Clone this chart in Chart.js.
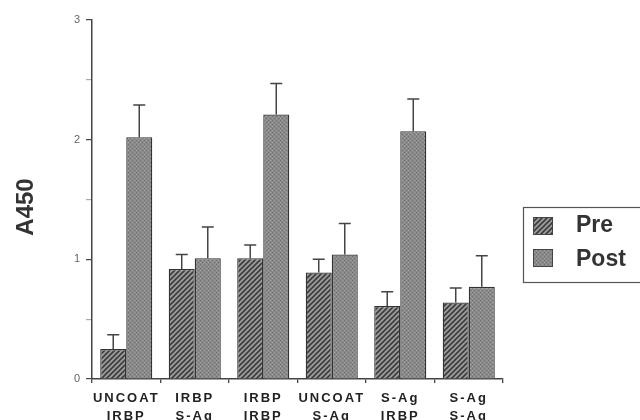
<!DOCTYPE html>
<html>
<head>
<meta charset="utf-8">
<script src="https://cdn.jsdelivr.net/npm/chart.js@4/dist/chart.umd.min.js"></script>
<style>
  html, body { margin: 0; padding: 0; background: #ffffff; }
  #wrap { width: 640px; height: 420px; }
</style>
</head>
<body>
<div id="wrap"><canvas id="c" width="640" height="420"></canvas></div>
<script>
// ---- data ----
const categories = [
  ['UNCOAT', 'IRBP'],
  ['IRBP', 'S-Ag'],
  ['IRBP', 'IRBP'],
  ['UNCOAT', 'S-Ag'],
  ['S-Ag', 'IRBP'],
  ['S-Ag', 'S-Ag']
];
const seriesNames = ['Pre', 'Post'];
const preValues  = [0.25, 0.92, 1.01, 0.89, 0.61, 0.64];
const preErrors  = [0.12, 0.12, 0.11, 0.11, 0.12, 0.12];
const postValues = [2.02, 1.01, 2.21, 1.04, 2.07, 0.77];
const postErrors = [0.27, 0.26, 0.26, 0.26, 0.27, 0.26];
const yTitle = 'A450';
const yMin = 0, yMax = 3, yStep = 0.5;

// ---- fill patterns ----
function hatchPattern() {
  const s = 5;
  const t = document.createElement('canvas');
  t.width = s; t.height = s;
  const g = t.getContext('2d');
  g.fillStyle = '#9c9c9c';
  g.fillRect(0, 0, s, s);
  g.strokeStyle = '#3c3c3c';
  g.lineWidth = 1.6;
  g.beginPath();
  g.moveTo(-1, s + 1); g.lineTo(s + 1, -1);
  g.moveTo(-1, 1); g.lineTo(1, -1);
  g.moveTo(s - 1, s + 1); g.lineTo(s + 1, s - 1);
  g.stroke();
  return g.createPattern(t, 'repeat');
}
function stipplePattern() {
  const s = 4;
  const t = document.createElement('canvas');
  t.width = s; t.height = s;
  const g = t.getContext('2d');
  g.fillStyle = '#8a8a8a';
  g.fillRect(0, 0, s, s);
  g.fillStyle = '#6e6e6e';
  g.fillRect(0, 0, 1, 1); g.fillRect(2, 2, 1, 1);
  g.fillStyle = '#a2a2a2';
  g.fillRect(2, 0, 1, 1); g.fillRect(0, 2, 1, 1);
  return g.createPattern(t, 'repeat');
}
const preFill = hatchPattern();
const postFill = stipplePattern();

const errorArrays = [preErrors, postErrors];

// ---- plugins ----
const errorBars = {
  id: 'errorBars',
  afterDatasetsDraw(chart) {
    const ctx = chart.ctx;
    const ys = chart.scales.y;
    ctx.save();
    ctx.strokeStyle = '#444';
    ctx.lineWidth = 1.5;
    chart.data.datasets.forEach((ds, i) => {
      const meta = chart.getDatasetMeta(i);
      meta.data.forEach((el, j) => {
        const top = ys.getPixelForValue(ds.data[j] + errorArrays[i][j]);
        const x = el.x;
        ctx.beginPath();
        ctx.moveTo(x, el.y);
        ctx.lineTo(x, top);
        ctx.moveTo(x - 6, top);
        ctx.lineTo(x + 6, top);
        ctx.stroke();
      });
    });
    ctx.restore();
  }
};

const extras = {
  id: 'extras',
  afterLayout(chart) {
    const xs = chart.scales.x;
    if (!xs._lsPatched) {
      const orig = xs.drawLabels.bind(xs);
      xs.drawLabels = function (area) {
        const ctx = this.ctx;
        ctx.save();
        ctx.letterSpacing = '2px';
        orig(area);
        ctx.restore();
      };
      xs._lsPatched = true;
    }
  },
  afterDraw(chart) {
    const ctx = chart.ctx;
    const ca = chart.chartArea;
    ctx.save();
    // y axis title
    ctx.translate(26, 207);
    ctx.rotate(-Math.PI / 2);
    ctx.fillStyle = '#333';
    ctx.font = 'bold 24px "Liberation Sans", Arial, sans-serif';
    ctx.textAlign = 'center';
    ctx.textBaseline = 'middle';
    ctx.fillText(yTitle, 0, 0);
    ctx.restore();

    // legend box
    ctx.save();
    const lx = ca.right + 20, ly = 207;
    ctx.strokeStyle = '#555';
    ctx.lineWidth = 1.2;
    ctx.strokeRect(lx + 0.5, ly + 0.5, 160, 75);
    const fills = [preFill, postFill];
    const rowY = [217, 249];
    const baseY = [232, 266];
    chart.data.datasets.forEach((ds, i) => {
      ctx.fillStyle = fills[i];
      ctx.fillRect(lx + 10, rowY[i], 20, 18);
      ctx.strokeStyle = '#444';
      ctx.lineWidth = 1;
      ctx.strokeRect(lx + 10.5, rowY[i] + 0.5, 19, 17);
      ctx.fillStyle = '#333';
      ctx.font = 'bold 23px "Liberation Sans", Arial, sans-serif';
      ctx.textAlign = 'left';
      ctx.textBaseline = 'alphabetic';
      ctx.fillText(ds.label, lx + 53, baseY[i]);
    });
    ctx.restore();
  }
};

// ---- chart ----
new Chart(document.getElementById('c'), {
  type: 'bar',
  data: {
    labels: categories,
    datasets: [
      { label: seriesNames[0], data: preValues, backgroundColor: preFill,
        borderColor: '#333', borderWidth: 1.3, borderSkipped: 'bottom' },
      { label: seriesNames[1], data: postValues, backgroundColor: postFill,
        borderColor: '#333', borderWidth: 1.3, borderSkipped: 'bottom' }
    ]
  },
  options: {
    responsive: false,
    animation: false,
    devicePixelRatio: 1,
    layout: { padding: { left: 0, right: 137, top: 20, bottom: 0 } },
    datasets: { bar: { barPercentage: 1.0, categoryPercentage: 0.76 } },
    plugins: { legend: { display: false }, tooltip: { enabled: false } },
    scales: {
      x: {
        grid: { drawOnChartArea: false, drawTicks: true, tickLength: 4, offset: true, color: '#444', lineWidth: 1.3 },
        border: { display: true, color: '#444', width: 1.5 },
        ticks: {
          autoSkip: false, maxRotation: 0, minRotation: 0, padding: 6, color: '#222',
          font: { family: '"Liberation Sans", Arial, sans-serif', size: 13, weight: 'bold', lineHeight: 1.385 }
        },
        afterFit(scale) { scale.height = 41; }
      },
      y: {
        min: yMin, max: yMax,
        grid: {
          drawOnChartArea: false, drawTicks: true, tickLength: 6, lineWidth: 1.2,
          tickColor: (c) => (Number.isInteger(c.tick.value) ? '#444' : '#aaa')
        },
        border: { display: true, color: '#444', width: 1.5 },
        ticks: {
          stepSize: yStep, padding: 6, color: '#666',
          font: { family: '"Liberation Sans", Arial, sans-serif', size: 11 },
          callback: (v) => (Number.isInteger(v) ? String(v) : '')
        },
        afterFit(scale) { scale.width = 92; }
      }
    }
  },
  plugins: [errorBars, extras]
});
</script>
</body>
</html>
